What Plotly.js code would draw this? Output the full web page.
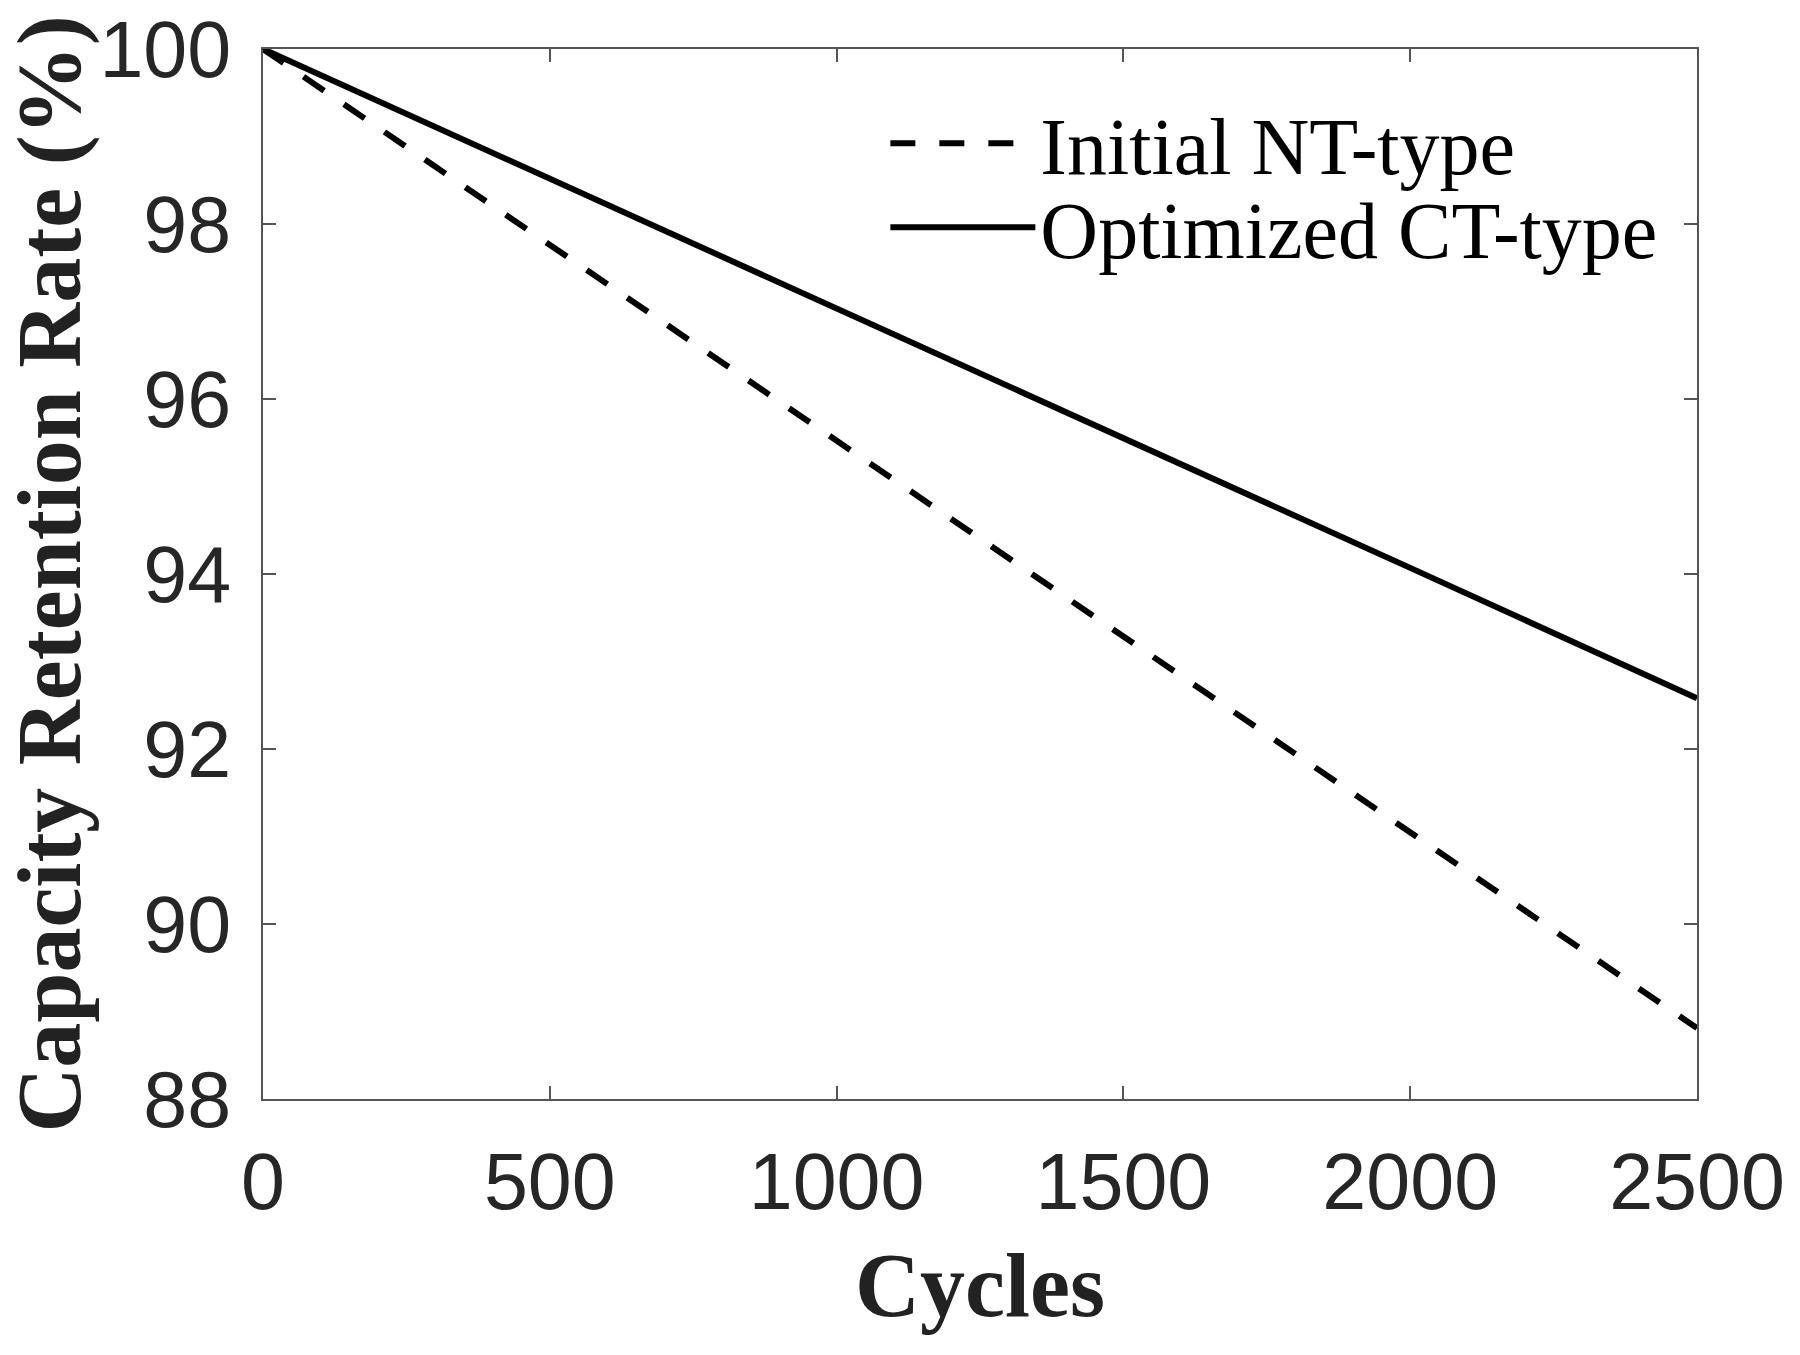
<!DOCTYPE html>
<html>
<head>
<meta charset="utf-8">
<script src="https://cdn.plot.ly/plotly-3.0.1.min.js"></script>
<style>html,body{margin:0;padding:0;background:#fff;}#chart{width:1800px;height:1355px;}</style>
</head>
<body>
<div id="chart"></div>
<script>
const cycles = [0, 500, 1000, 1500, 2000, 2500];
const initialNT = [100, 97.76, 95.52, 93.29, 91.05, 88.81];
const optimizedCT = [100, 98.52, 97.03, 95.55, 94.07, 92.58];
const seriesNames = ['Initial NT-type', 'Optimized CT-type'];
const xTicks = [0, 500, 1000, 1500, 2000, 2500];
const yTicks = [88, 90, 92, 94, 96, 98, 100];

const traces = [
  {x: cycles, y: initialNT, name: seriesNames[0], mode: 'lines', legend: 'legend',
   line: {color: '#000', width: 6, dash: '25px,24px'}},
  {x: cycles, y: optimizedCT, name: seriesNames[1], mode: 'lines', legend: 'legend2',
   line: {color: '#000', width: 6}}
];

const axisCommon = {
  showline: true, linecolor: '#555', linewidth: 2, mirror: 'ticks',
  ticks: 'inside', ticklen: 13, tickwidth: 2, tickcolor: '#555',
  showgrid: false, zeroline: false,
  tickfont: {family: 'Liberation Sans, Arial, sans-serif', size: 79, color: '#262626'}
};

const legendFont = {family: 'Liberation Serif, Times New Roman, serif', size: 80, color: '#000'};
const legendCommon = {
  xanchor: 'left', yanchor: 'top', bgcolor: 'rgba(0,0,0,0)', borderwidth: 0,
  font: legendFont, itemwidth: 145
};

const layout = {
  width: 1800, height: 1355,
  margin: {l: 263, r: 103, t: 49, b: 256},
  paper_bgcolor: '#fff', plot_bgcolor: '#fff',
  showlegend: true,
  legend: Object.assign({}, legendCommon, {x: 0.434, y: 0.966}),
  legend2: Object.assign({}, legendCommon, {x: 0.434, y: 0.886}),
  xaxis: Object.assign({}, axisCommon, {
    range: [0, 2500], tickvals: xTicks, ticklabelstandoff: 13,
    title: {text: 'Cycles', standoff: 28,
      font: {family: 'Liberation Serif, Times New Roman, serif', size: 90, color: '#222', weight: 'bold'}}
  }),
  yaxis: Object.assign({}, axisCommon, {
    range: [88, 100], tickvals: yTicks, ticklabelstandoff: 14,
    title: {text: 'Capacity Retention Rate (%)', standoff: 30,
      font: {family: 'Liberation Serif, Times New Roman, serif', size: 90, color: '#222', weight: 'bold'}}
  })
};

Plotly.newPlot('chart', traces, layout, {staticPlot: true, displayModeBar: false});
</script>
</body>
</html>
